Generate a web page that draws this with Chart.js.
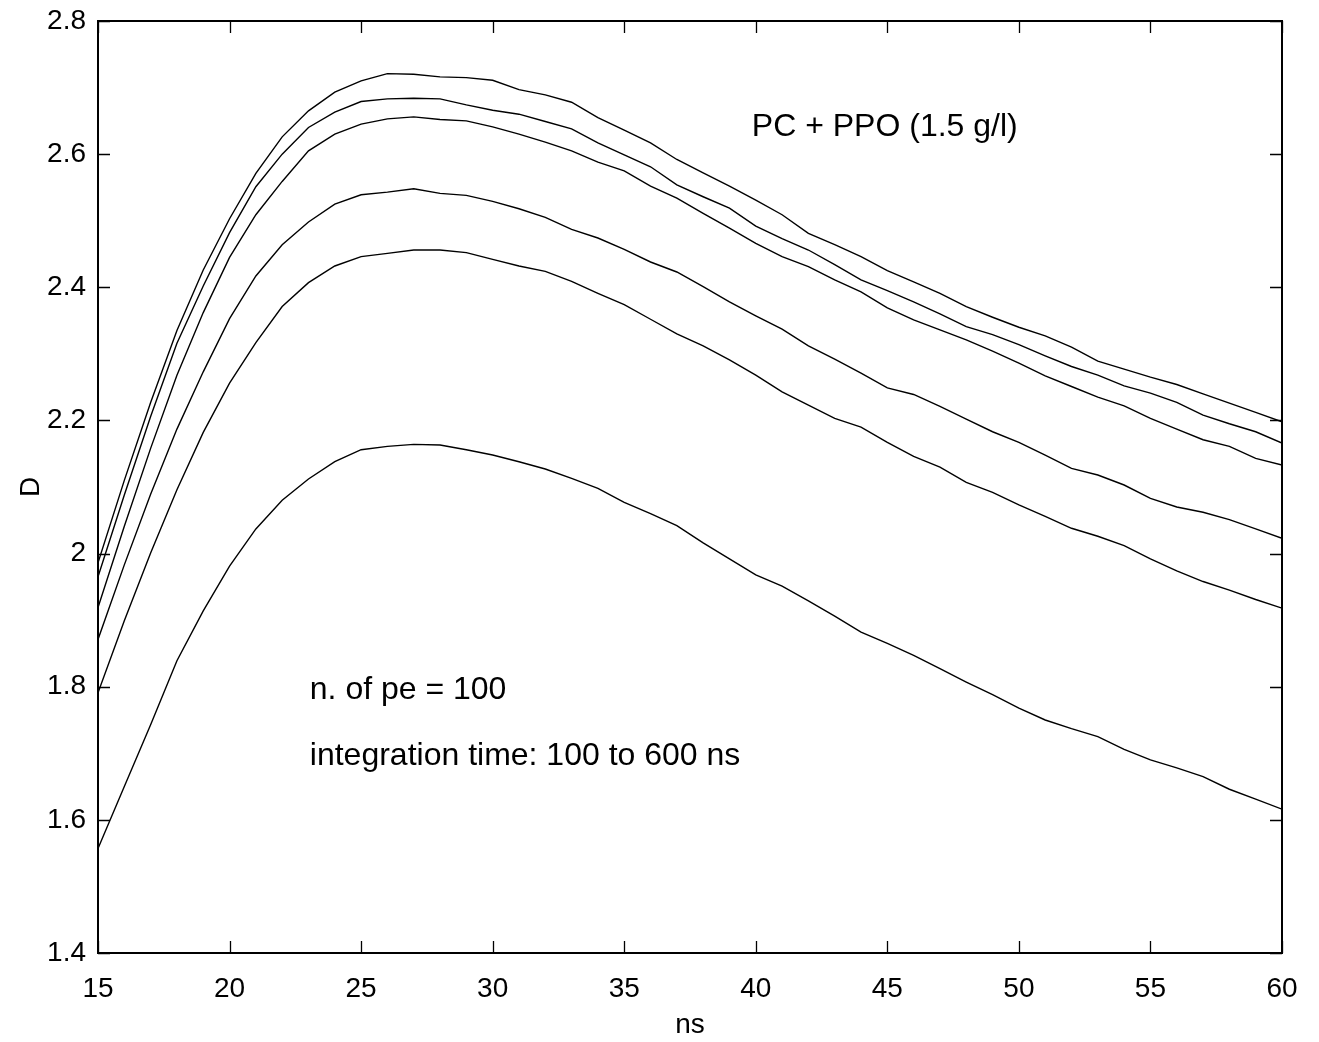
<!DOCTYPE html>
<html>
<head>
<meta charset="utf-8">
<script src="https://cdn.jsdelivr.net/npm/chart.js@4.4.1/dist/chart.umd.min.js"></script>
<style>
  html, body { margin: 0; padding: 0; background: #fff; }
  #wrap { width: 1319px; height: 1042px; }
</style>
</head>
<body>
<div id="wrap"><canvas id="chart"></canvas></div>
<script>
// time axis, ns
var ns = [15, 16, 17, 18, 19, 20, 21, 22, 23, 24, 25, 26, 27, 28, 29, 30, 31, 32, 33, 34, 35, 36, 37,
    38, 39, 40, 41, 42, 43, 44, 45, 46, 47, 48, 49, 50, 51, 52, 53, 54, 55, 56, 57, 58, 59, 60];

// six D curves, top to bottom
var curve1 = [1.986, 2.110, 2.227, 2.335, 2.426, 2.503, 2.571, 2.626, 2.665, 2.693, 2.710, 2.721, 2.720,
    2.716, 2.715, 2.711, 2.697, 2.689, 2.678, 2.655, 2.636, 2.617, 2.592, 2.572, 2.552, 2.531, 2.509,
    2.481, 2.464, 2.446, 2.425, 2.408, 2.391, 2.371, 2.355, 2.340, 2.327, 2.310, 2.289, 2.277, 2.265,
    2.254, 2.240, 2.226, 2.212, 2.198];
var curve2 = [1.965, 2.088, 2.206, 2.316, 2.402, 2.482, 2.551, 2.600, 2.640, 2.663, 2.679, 2.683, 2.684,
    2.683, 2.674, 2.666, 2.660, 2.649, 2.638, 2.617, 2.599, 2.581, 2.554, 2.536, 2.519, 2.492, 2.473,
    2.456, 2.434, 2.411, 2.395, 2.378, 2.360, 2.341, 2.329, 2.314, 2.297, 2.281, 2.268, 2.252, 2.241,
    2.227, 2.208, 2.195, 2.183, 2.166];
var curve3 = [1.919, 2.041, 2.158, 2.268, 2.362, 2.445, 2.509, 2.559, 2.605, 2.630, 2.645, 2.653, 2.656,
    2.652, 2.650, 2.641, 2.630, 2.618, 2.605, 2.588, 2.575, 2.552, 2.534, 2.511, 2.489, 2.466, 2.446,
    2.431, 2.411, 2.393, 2.369, 2.351, 2.336, 2.321, 2.304, 2.286, 2.267, 2.251, 2.235, 2.222, 2.203,
    2.187, 2.171, 2.161, 2.143, 2.133];
var curve4 = [1.871, 1.983, 2.089, 2.187, 2.273, 2.353, 2.417, 2.464, 2.498, 2.525, 2.539, 2.543, 2.548,
    2.541, 2.538, 2.529, 2.518, 2.505, 2.487, 2.474, 2.457, 2.438, 2.423, 2.401, 2.378, 2.357, 2.337,
    2.312, 2.292, 2.271, 2.249, 2.239, 2.221, 2.202, 2.183, 2.167, 2.148, 2.128, 2.118, 2.103, 2.083,
    2.070, 2.062, 2.051, 2.037, 2.023];
var curve5 = [1.791, 1.899, 2.001, 2.096, 2.182, 2.256, 2.317, 2.371, 2.407, 2.432, 2.446, 2.451, 2.456,
    2.456, 2.452, 2.442, 2.432, 2.424, 2.409, 2.391, 2.374, 2.352, 2.330, 2.312, 2.291, 2.268, 2.243,
    2.223, 2.203, 2.190, 2.167, 2.146, 2.130, 2.107, 2.092, 2.073, 2.056, 2.038, 2.026, 2.012, 1.992,
    1.974, 1.958, 1.945, 1.931, 1.918];
var curve6 = [1.557, 1.650, 1.743, 1.839, 1.914, 1.981, 2.037, 2.080, 2.112, 2.138, 2.156, 2.161, 2.164,
    2.163, 2.156, 2.148, 2.138, 2.127, 2.113, 2.098, 2.077, 2.060, 2.042, 2.016, 1.992, 1.968, 1.951,
    1.929, 1.906, 1.882, 1.865, 1.847, 1.827, 1.807, 1.788, 1.768, 1.750, 1.737, 1.725, 1.706, 1.690,
    1.678, 1.665, 1.646, 1.631, 1.616];

var xTicks = [15, 20, 25, 30, 35, 40, 45, 50, 55, 60];
var yTicks = [1.4, 1.6, 1.8, 2.0, 2.2, 2.4, 2.6, 2.8];

// text notes: [text, ns, D] (left edge, middle)
var notes = [
    ['PC + PPO (1.5 g/l)', 39.85, 2.641],
    ['n. of pe = 100', 23.05, 1.795],
    ['integration time: 100 to 600 ns', 23.05, 1.696]
];

var FONT = '"Liberation Sans", Arial, Helvetica, sans-serif';
Chart.defaults.font.family = FONT;
Chart.defaults.color = '#000';

function series(vals) {
    return vals.map(function (v, i) { return {x: ns[i], y: v}; });
}

var curves = [curve1, curve2, curve3, curve4, curve5, curve6];

// matlab style frame: box plus inward ticks on all four sides
var framePlugin = {
    id: 'frame',
    afterDatasetsDraw: function (chart) {
        var ctx = chart.ctx;
        var a = chart.chartArea;
        var xs = chart.scales.x, ys = chart.scales.y;
        var len = 12;
        ctx.save();
        ctx.strokeStyle = '#000';
        ctx.lineWidth = 1.3;
        ctx.beginPath();
        xTicks.forEach(function (t) {
            var px = Math.round(xs.getPixelForValue(t)) + 0.5;
            ctx.moveTo(px, a.bottom); ctx.lineTo(px, a.bottom - len);
            ctx.moveTo(px, a.top); ctx.lineTo(px, a.top + len);
        });
        yTicks.forEach(function (t) {
            var py = Math.round(ys.getPixelForValue(t)) + 0.5;
            ctx.moveTo(a.left, py); ctx.lineTo(a.left + len, py);
            ctx.moveTo(a.right, py); ctx.lineTo(a.right - len, py);
        });
        ctx.stroke();
        ctx.lineWidth = 2;
        ctx.strokeRect(a.left, a.top, a.right - a.left, a.bottom - a.top);

        ctx.fillStyle = '#000';
        ctx.font = '32px ' + FONT;
        ctx.textAlign = 'left';
        ctx.textBaseline = 'middle';
        notes.forEach(function (n) {
            ctx.fillText(n[0], xs.getPixelForValue(n[1]), ys.getPixelForValue(n[2]));
        });
        ctx.restore();
    }
};

var chart = new Chart(document.getElementById('chart').getContext('2d'), {
    type: 'line',
    data: {
        datasets: curves.map(function (c) {
            return {
                data: series(c),
                borderColor: '#000',
                borderWidth: 1.4,
                pointRadius: 0,
                fill: false,
                tension: 0
            };
        })
    },
    options: {
        responsive: true,
        maintainAspectRatio: false,
        animation: false,
        layout: {padding: {top: 21, right: 37, left: 0, bottom: 0}},
        plugins: {legend: {display: false}, tooltip: {enabled: false}},
        scales: {
            x: {
                type: 'linear',
                min: 15,
                max: 60,
                afterBuildTicks: function (s) { s.ticks = xTicks.map(function (v) { return {value: v}; }); },
                afterFit: function (s) { s.height = 89; s.paddingLeft = 0; s.paddingRight = 0; },
                grid: {display: false, drawTicks: false},
                border: {display: false},
                ticks: {font: {size: 28}, padding: 19, maxRotation: 0},
                title: {display: true, text: 'ns', font: {size: 28}, padding: {top: 0, bottom: 0}}
            },
            y: {
                type: 'linear',
                min: 1.4,
                max: 2.8,
                afterBuildTicks: function (s) { s.ticks = yTicks.map(function (v) { return {value: v}; }); },
                afterFit: function (s) { s.width = 98; s.paddingTop = 0; s.paddingBottom = 0; },
                grid: {display: false, drawTicks: false},
                border: {display: false},
                ticks: {
                    font: {size: 28},
                    padding: 12,
                    callback: function (v) { return String(+v.toFixed(1)); }
                },
                title: {display: true, text: 'D', font: {size: 28}, padding: {top: 14, bottom: 0}}
            }
        }
    },
    plugins: [framePlugin]
});
</script>
</body>
</html>
